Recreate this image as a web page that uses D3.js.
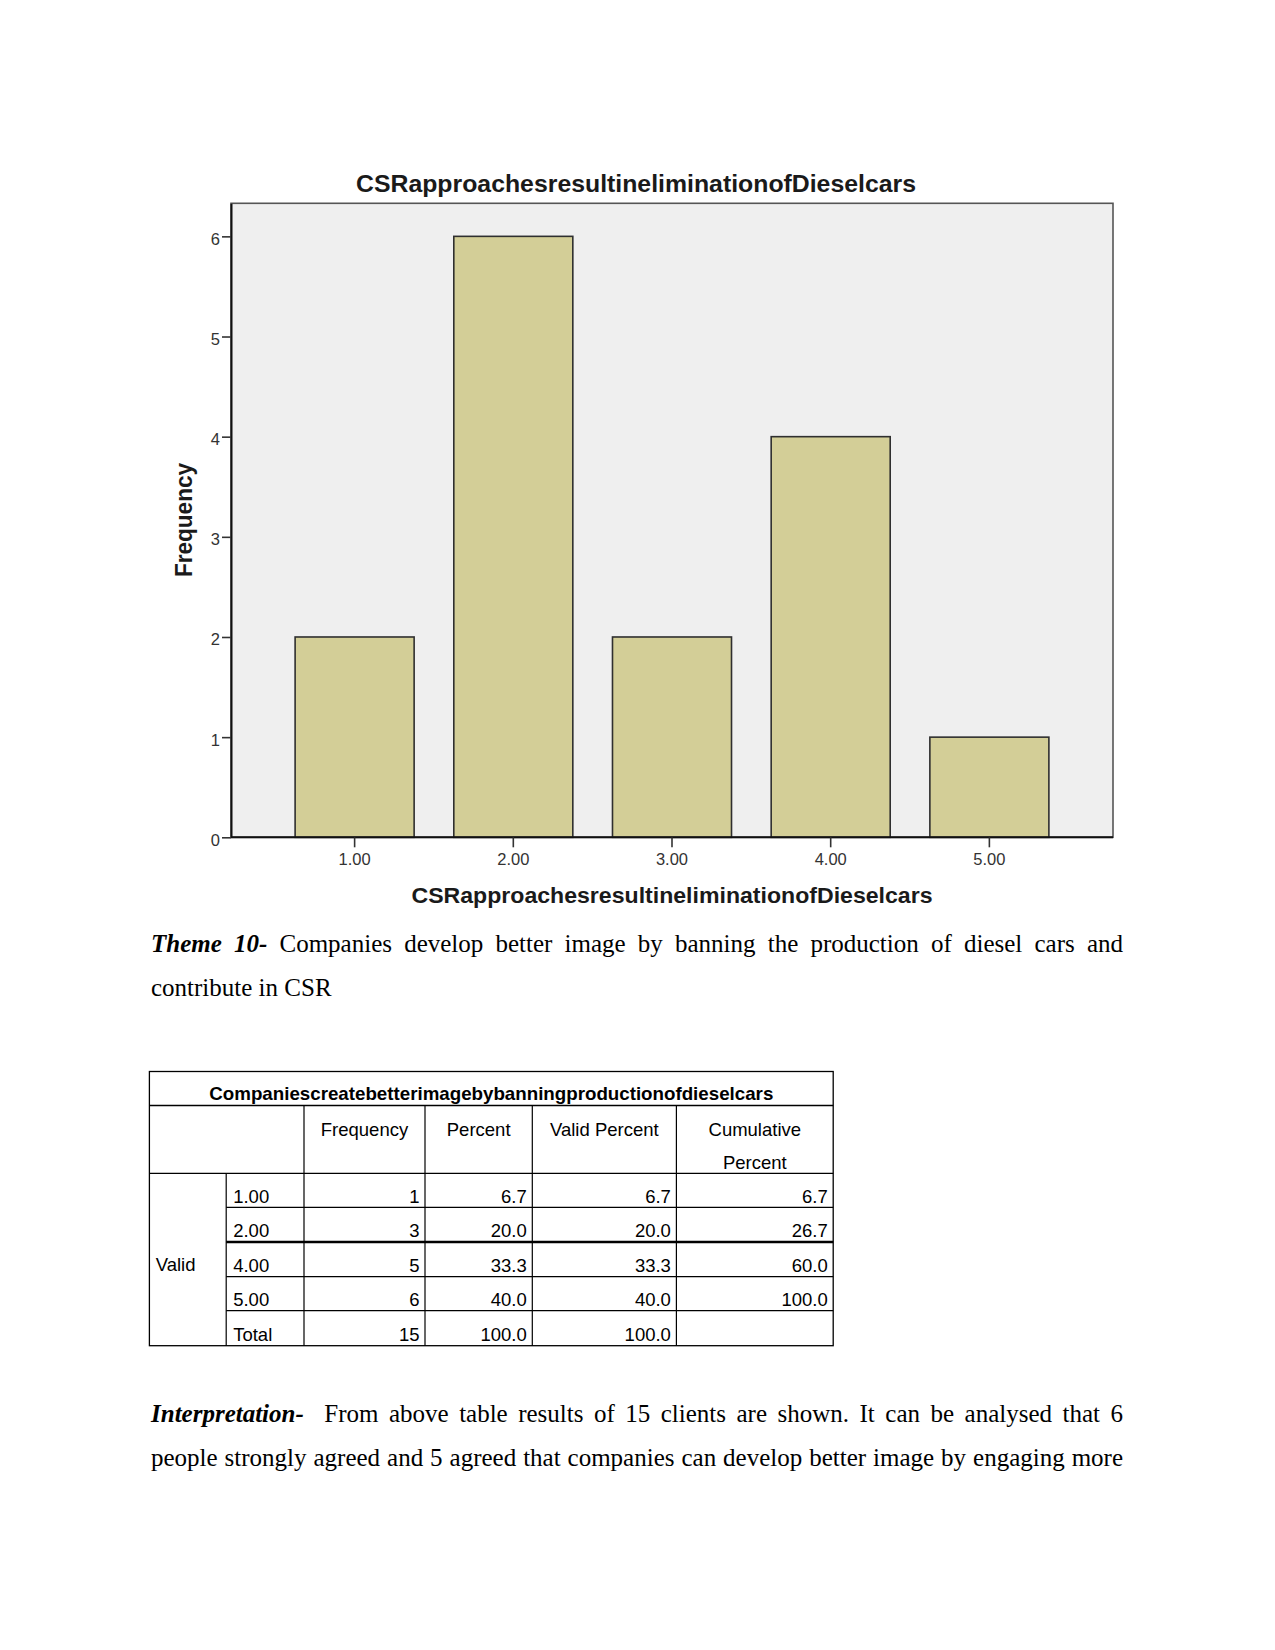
<!DOCTYPE html>
<html>
<head>
<meta charset="utf-8">
<script src="https://cdn.jsdelivr.net/npm/d3@7"></script>
<style>
  html, body { margin: 0; padding: 0; background: #ffffff; }
  svg { display: block; }
</style>
</head>
<body>
<svg id="page" width="1275" height="1650"></svg>
<script>
// ---------- DATA ----------
const chartTitle = "CSRapproachesresultineliminationofDieselcars";
const xAxisTitle = "CSRapproachesresultineliminationofDieselcars";
const yAxisTitle = "Frequency";
const categories = ["1.00", "2.00", "3.00", "4.00", "5.00"];
const frequencies = [2, 6, 2, 4, 1];
const yTicks = [0, 1, 2, 3, 4, 5, 6];

const tableTitle = "Companiescreatebetterimagebybanningproductionofdieselcars";
const tableHeaders = [["Frequency"], ["Percent"], ["Valid Percent"], ["Cumulative", "Percent"]];
const tableGroupLabel = "Valid";
const tableRowLabels = ["1.00", "2.00", "4.00", "5.00", "Total"];
const tableFrequency = ["1", "3", "5", "6", "15"];
const tablePercent = ["6.7", "20.0", "33.3", "40.0", "100.0"];
const tableValidPercent = ["6.7", "20.0", "33.3", "40.0", "100.0"];
const tableCumulative = ["6.7", "26.7", "60.0", "100.0", ""];

const themeLead = "Theme 10-";
const themeLine1 = "Companies develop better image by banning the production of diesel cars and";
const themeLine2 = "contribute in CSR";
const interpLead = "Interpretation-";
const interpLine1 = "From above table results of 15 clients are shown. It can be analysed that 6";
const interpLine2 = "people strongly agreed and 5 agreed that companies can develop better image by engaging more";

// ---------- CHART ----------
const svg = d3.select("#page");
svg.append("rect").attr("width", 1275).attr("height", 1650).attr("fill", "#ffffff");

const plot = { left: 231, right: 1113, top: 203.3, bottom: 837.3 };
const sansFont = "Arial, 'Liberation Sans', Helvetica, sans-serif";
const serifFont = "'Liberation Serif', 'Times New Roman', serif";

const x = d3.scaleBand()
  .domain(categories)
  .range([plot.left, plot.right])
  .paddingInner(0.25)
  .paddingOuter(0.404);

const y = d3.scaleLinear()
  .domain([0, 6.33])
  .range([plot.bottom, plot.top]);

// plot background / frame
svg.append("rect")
  .attr("x", plot.left).attr("y", plot.top)
  .attr("width", plot.right - plot.left).attr("height", plot.bottom - plot.top)
  .attr("fill", "#efefef")
  .attr("stroke", "#555555").attr("stroke-width", 1.6);

// bars
svg.append("g").selectAll("rect")
  .data(frequencies)
  .join("rect")
  .attr("x", (d, i) => x(categories[i]))
  .attr("y", d => y(d))
  .attr("width", x.bandwidth())
  .attr("height", d => y(0) - y(d))
  .attr("fill", "#d3ce97")
  .attr("stroke", "#2f2f2f")
  .attr("stroke-width", 1.6);

// y axis (ticks via axis, labels drawn as plain upright text)
const yAxis = svg.append("g")
  .attr("transform", `translate(${plot.left},0)`)
  .call(d3.axisLeft(y).tickValues(yTicks).tickFormat("").tickSize(9).tickSizeOuter(0));
yAxis.select(".domain").attr("stroke", "#111").attr("stroke-width", 2);
yAxis.selectAll(".tick line").attr("stroke", "#333").attr("stroke-width", 1.6);
svg.append("g").selectAll("text")
  .data(yTicks)
  .join("text")
  .attr("x", plot.left - 11)
  .attr("y", d => y(d) + 8.5)
  .attr("text-anchor", "end")
  .attr("font-family", sansFont).attr("font-size", 16.5).attr("fill", "#333")
  .text(d => d3.format("d")(d));

// x axis
const xAxis = svg.append("g")
  .attr("transform", `translate(0,${plot.bottom})`)
  .call(d3.axisBottom(x).tickSize(10).tickPadding(6).tickSizeOuter(0));
xAxis.select(".domain").attr("stroke", "#111").attr("stroke-width", 2)
  .attr("d", `M${plot.left},0H${plot.right}`);
xAxis.selectAll(".tick line").attr("stroke", "#333").attr("stroke-width", 1.6);
xAxis.selectAll(".tick text")
  .attr("font-family", sansFont).attr("font-size", 16.5).attr("fill", "#333");

// titles
svg.append("text")
  .attr("x", 636).attr("y", 192)
  .attr("text-anchor", "middle")
  .attr("font-family", sansFont).attr("font-weight", "bold").attr("font-size", 24.5)
  .attr("fill", "#1a1a1a")
  .attr("textLength", 560).attr("lengthAdjust", "spacingAndGlyphs")
  .text(chartTitle);

svg.append("text")
  .attr("x", 672).attr("y", 903)
  .attr("text-anchor", "middle")
  .attr("font-family", sansFont).attr("font-weight", "bold").attr("font-size", 22.5)
  .attr("fill", "#1a1a1a")
  .attr("textLength", 521).attr("lengthAdjust", "spacingAndGlyphs")
  .text(xAxisTitle);

svg.append("text")
  .attr("transform", "translate(191.5,520) rotate(-90)")
  .attr("text-anchor", "middle")
  .attr("font-family", sansFont).attr("font-weight", "bold").attr("font-size", 23)
  .attr("fill", "#1a1a1a")
  .attr("textLength", 114).attr("lengthAdjust", "spacingAndGlyphs")
  .text(yAxisTitle);

// ---------- PARAGRAPHS ----------
const textLeft = 151, textRight = 1123;
const bodySize = 25;

function drawLine(leadWords, bodyWords, baseline, justify, leadExtra) {
  const g = svg.append("g");
  const items = [];
  leadWords.forEach(w => items.push({ w, bold: true }));
  bodyWords.forEach(w => items.push({ w, bold: false }));
  const nodes = items.map(it => g.append("text")
    .attr("y", baseline)
    .attr("font-family", serifFont)
    .attr("font-size", bodySize)
    .attr("font-weight", it.bold ? "bold" : "normal")
    .attr("font-style", it.bold ? "italic" : "normal")
    .attr("fill", "#000")
    .text(it.w));
  const widths = nodes.map(n => n.node().getComputedTextLength());
  const total = d3.sum(widths) + (leadExtra || 0);
  let gap = bodySize * 0.25;
  if (justify && nodes.length > 1) gap = (textRight - textLeft - total) / (nodes.length - 1);
  let cx = textLeft;
  nodes.forEach((n, i) => {
    n.attr("x", cx);
    cx += widths[i] + gap;
    if (leadExtra && i === leadWords.length - 1) cx += leadExtra;
  });
}

drawLine(themeLead.split(" "), themeLine1.split(" "), 952, true, 0);
drawLine([], themeLine2.split(" "), 996, false, 0);
drawLine(interpLead.split(" "), interpLine1.split(" "), 1422, true, 10);
drawLine([], interpLine2.split(" "), 1466, true, 0);

// ---------- TABLE ----------
const tFont = 18.5;
const colX = [149.4, 226.2, 304, 425, 532.3, 676.4, 833.2];
const rowY = [1071.5, 1105.5, 1173.3, 1207.3, 1242, 1276.7, 1310.7, 1345.7];
const tg = svg.append("g");

function hline(x1, x2, yy, w) {
  tg.append("line").attr("x1", x1).attr("x2", x2).attr("y1", yy).attr("y2", yy)
    .attr("stroke", "#000").attr("stroke-width", w);
}
function vline(xx, y1, y2, w) {
  tg.append("line").attr("x1", xx).attr("x2", xx).attr("y1", y1).attr("y2", y2)
    .attr("stroke", "#000").attr("stroke-width", w);
}
tg.append("rect").attr("x", colX[0]).attr("y", rowY[0])
  .attr("width", colX[6] - colX[0]).attr("height", rowY[7] - rowY[0])
  .attr("fill", "none").attr("stroke", "#000").attr("stroke-width", 1.3);
hline(colX[0], colX[6], rowY[1], 1.3);
hline(colX[0], colX[6], rowY[2], 1.3);
hline(colX[1], colX[6], rowY[3], 1.2);
hline(colX[1], colX[6], rowY[4], 2.6);
hline(colX[1], colX[6], rowY[5], 1.2);
hline(colX[1], colX[6], rowY[6], 1.2);
[2, 3, 4, 5].forEach(i => vline(colX[i], rowY[1], rowY[7], 1.2));
vline(colX[1], rowY[2], rowY[7], 1.2);

tg.append("text")
  .attr("x", (colX[0] + colX[6]) / 2).attr("y", 1100)
  .attr("text-anchor", "middle")
  .attr("font-family", sansFont).attr("font-weight", "bold").attr("font-size", tFont)
  .attr("textLength", 564).attr("lengthAdjust", "spacingAndGlyphs")
  .text(tableTitle);

tableHeaders.forEach((lines, i) => {
  const cx = (colX[i + 2] + colX[i + 3]) / 2;
  lines.forEach((ln, j) => {
    tg.append("text").attr("x", cx).attr("y", 1136 + j * 32.5)
      .attr("text-anchor", "middle")
      .attr("font-family", sansFont).attr("font-size", tFont)
      .text(ln);
  });
});

tg.append("text").attr("x", 155.7).attr("y", 1271)
  .attr("font-family", sansFont).attr("font-size", tFont).text(tableGroupLabel);

const cols = [tableFrequency, tablePercent, tableValidPercent, tableCumulative];
tableRowLabels.forEach((lab, r) => {
  const base = rowY[r + 3] - 4.8;
  tg.append("text").attr("x", colX[1] + 7).attr("y", base)
    .attr("font-family", sansFont).attr("font-size", tFont).text(lab);
  cols.forEach((col, c) => {
    tg.append("text").attr("x", colX[c + 3] - 5.5).attr("y", base)
      .attr("text-anchor", "end")
      .attr("font-family", sansFont).attr("font-size", tFont).text(col[r]);
  });
});
</script>
</body>
</html>
